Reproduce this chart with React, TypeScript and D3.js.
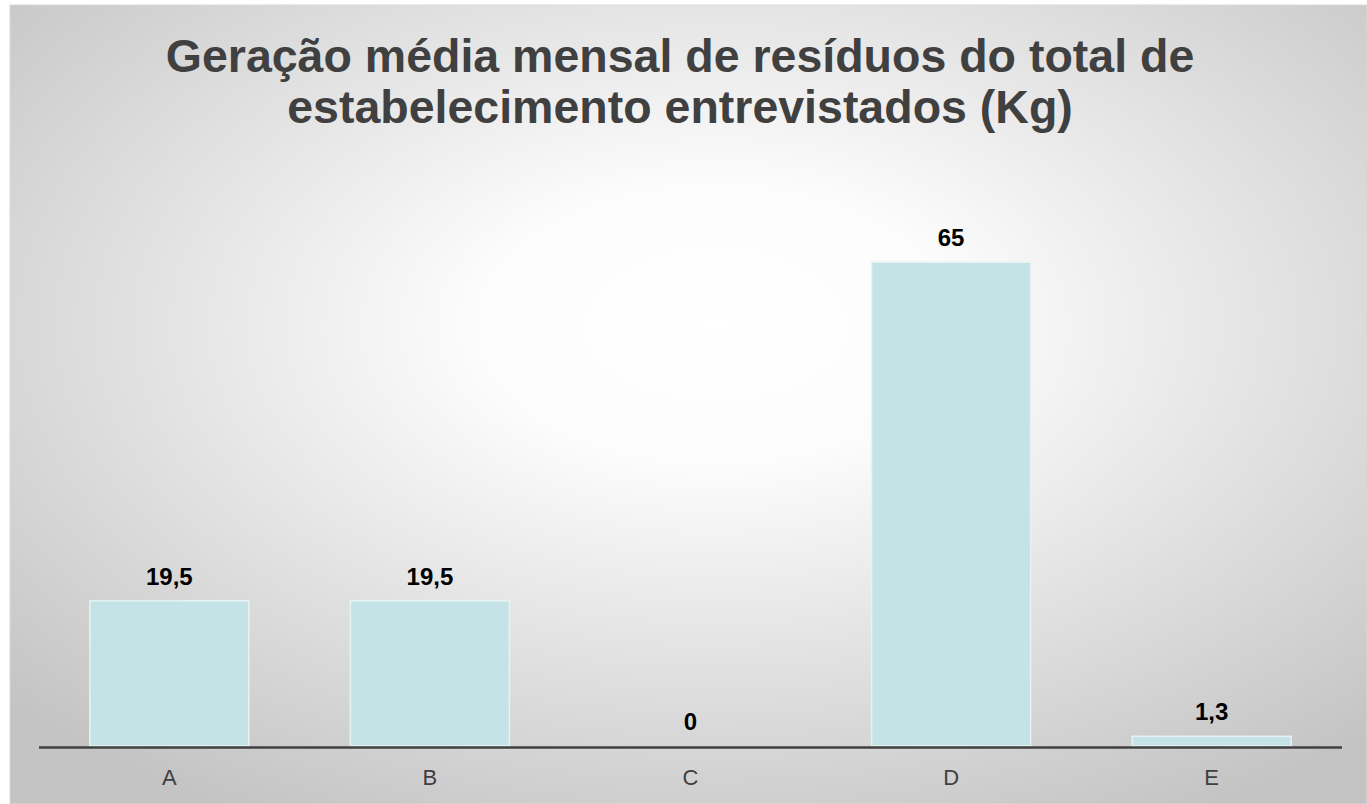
import React from 'react';
import { scaleBand, scaleLinear } from 'd3';

const categories = ['A', 'B', 'C', 'D', 'E'];
const values = [19.5, 19.5, 0, 65, 1.3];
const valueLabels = ['19,5', '19,5', '0', '65', '1,3'];
const titleLines = [
  'Geração média mensal de resíduos do total de',
  'estabelecimento entrevistados (Kg)',
];

const W = 1367;
const H = 804;

export default function App() {
  const x = scaleBand<string>()
    .domain(categories)
    .range([39, 1342])
    .paddingInner(0.39)
    .paddingOuter(0.195);
  const y = scaleLinear().domain([0, 70]).range([746, 225]);

  return (
    <svg
      width={W}
      height={H}
      style={{ position: 'absolute', left: 0, top: 0, display: 'block' }}
      fontFamily="'Liberation Sans', Arial, sans-serif"
    >
      <defs>
        <radialGradient id="bg" cx="52%" cy="40%" r="70%">
          <stop offset="0%" stopColor="#ffffff" />
          <stop offset="25%" stopColor="#fcfcfc" />
          <stop offset="100%" stopColor="#c4c4c4" />
        </radialGradient>
      </defs>
      <rect x={0} y={0} width={W} height={H} fill="#ffffff" />
      <rect x={10} y={5} width={W - 10} height={H - 5} fill="url(#bg)" stroke="#d9d9d9" strokeWidth={1} />

      {titleLines.map((t, i) => (
        <text
          key={i}
          x={680}
          y={72 + i * 51}
          textAnchor="middle"
          fontSize={46.5}
          fontWeight="bold"
          fill="#404040"
        >
          {t}
        </text>
      ))}

      {categories.map((c, i) => {
        const bx = x(c)!;
        const top = y(values[i]);
        return (
          <g key={c}>
            {values[i] > 0 && (
              <rect
                x={bx}
                y={top}
                width={x.bandwidth()}
                height={y(0) - top}
                fill="#c4e3e6"
                stroke="#e6f3f4"
                strokeWidth={1.5}
              />
            )}
            <text
              x={bx + x.bandwidth() / 2}
              y={top - 16}
              textAnchor="middle"
              fontSize={24}
              fontWeight="bold"
              fill="#000000"
            >
              {valueLabels[i]}
            </text>
            <text
              x={bx + x.bandwidth() / 2}
              y={785}
              textAnchor="middle"
              fontSize={22}
              fill="#404040"
            >
              {c}
            </text>
          </g>
        );
      })}

      <line x1={39} x2={1342} y1={747.5} y2={747.5} stroke="#404040" strokeWidth={2.5} />
    </svg>
  );
}
